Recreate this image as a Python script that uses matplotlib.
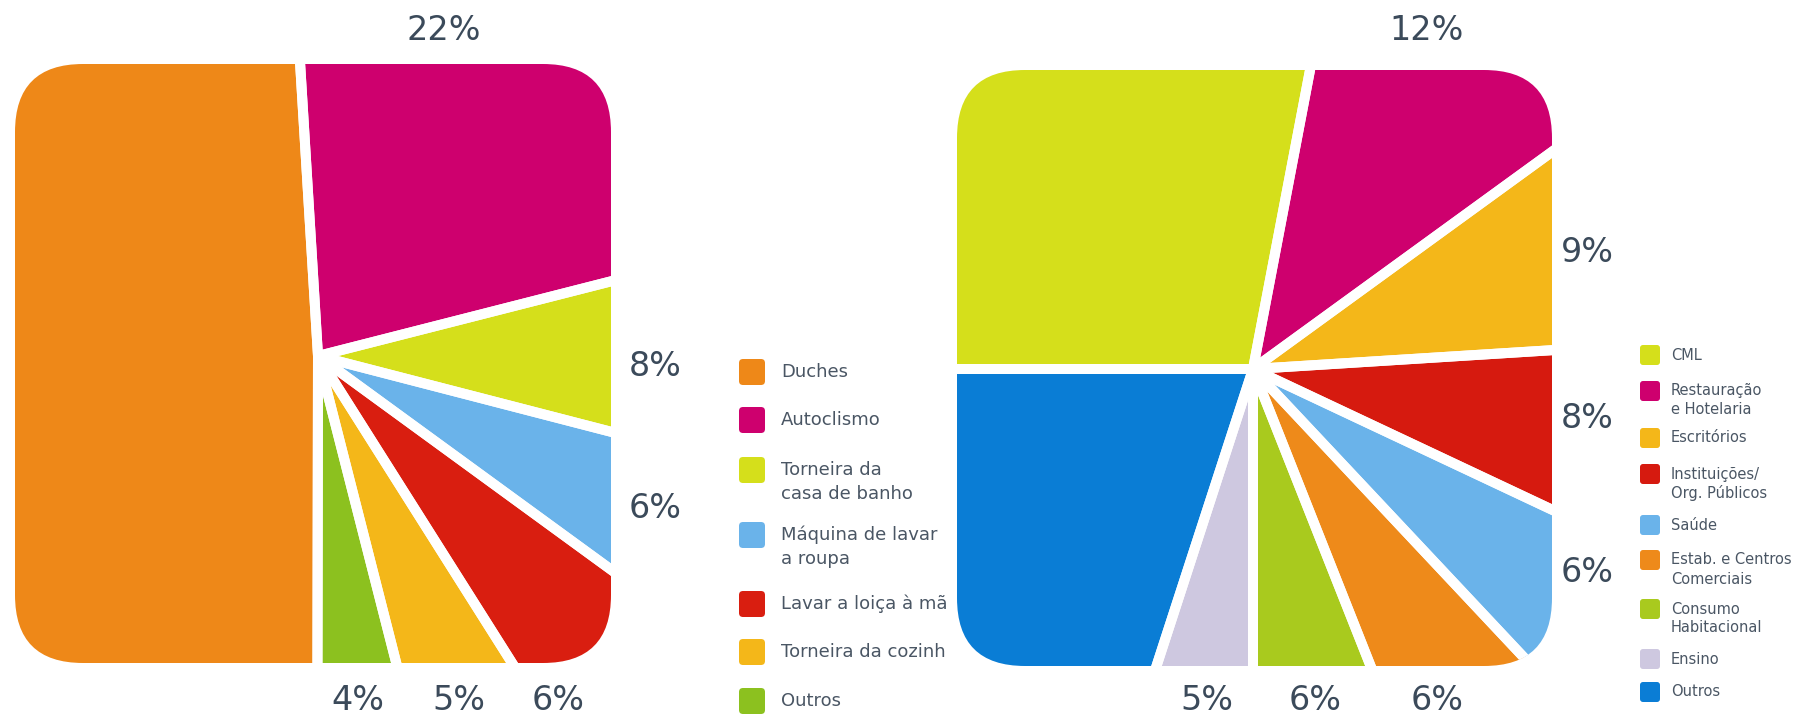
import matplotlib
matplotlib.use("Agg")
import matplotlib.pyplot as plt
from matplotlib.patches import FancyBboxPatch
from matplotlib.transforms import Bbox, TransformedBbox

# ---------------- data ----------------
left_labels = ["Duches", "Autoclismo", "Torneira da\ncasa de banho", "Máquina de lavar\na roupa",
               "Lavar a loiça à mão", "Torneira da cozinha", "Outros"]
left_values = [49, 22, 8, 6, 6, 5, 4]
left_colors = ["#EE8818", "#CE006E", "#D5DF1B", "#6AB3EA", "#D91E10", "#F4B719", "#8CC11F"]
left_pct_text = ["", "22%", "8%", "6%", "6%", "5%", "4%"]

right_labels = ["CML", "Restauração\ne Hotelaria", "Escritórios", "Instituições/\nOrg. Públicos",
                "Saúde", "Estab. e Centros\nComerciais", "Consumo\nHabitacional", "Ensino", "Outros"]
right_values = [28, 12, 9, 8, 6, 6, 6, 5, 20]
right_colors = ["#D5DF1B", "#CE006E", "#F4B719", "#D61A0F", "#6AB3EA", "#EE8A1A", "#A9CA1E",
                "#CEC8E0", "#0A7DD5"]
right_pct_text = ["", "12%", "9%", "8%", "6%", "6%", "6%", "5%", ""]

# ---------------- layout / style ----------------
W, H = 1809, 716
fig = plt.figure(figsize=(W / 100, H / 100), dpi=100)
ax = fig.add_axes([0, 0, 1, 1])

def Y(y):  # image row -> data y
    return H - y

pct_color = "#3B4A5A"
leg_color = "#4A5664"

def draw_pie(values, colors, center, start, box, rounding):
    x0, y0, x1, y1 = box
    clip = FancyBboxPatch((x0, Y(y1)), x1 - x0, y1 - y0,
                          boxstyle=f"round,pad=0,rounding_size={rounding}",
                          transform=ax.transData)
    w1, _ = ax.pie(values, colors=colors, startangle=start, counterclock=False,
                   radius=650, center=(center[0], Y(center[1])),
                   wedgeprops=dict(linewidth=0))
    w2, _ = ax.pie(values, colors=colors, startangle=start, counterclock=False,
                   radius=650, center=(center[0], Y(center[1])),
                   wedgeprops=dict(facecolor="none", edgecolor="white", linewidth=7.2,
                                   joinstyle="round"))
    for w in list(w1) + list(w2):
        w.set_clip_path(clip)
        w.set_clip_on(True)

# left pie
draw_pie(left_values, left_colors, (318, 356), 269.9, (15, 64, 611, 663), 68)
# right pie
draw_pie(right_values, right_colors, (1253, 369), 180.0, (957, 70, 1552, 666), 68)

# percentage labels (positions in image pixels)
left_pct_pos = [None, (444, 30), (655, 367), (655, 508), (558, 701), (459, 701), (358, 701)]
right_pct_pos = [None, (1427, 30), (1587, 253), (1587, 418), (1587, 572), (1437, 701),
                 (1315, 701), (1207, 701), None]
for txts, poss in ((left_pct_text, left_pct_pos), (right_pct_text, right_pct_pos)):
    for t, p in zip(txts, poss):
        if t and p:
            ax.text(p[0], Y(p[1]), t, ha="center", va="center", fontsize=24,
                    color=pct_color, family="DejaVu Sans")

# left legend
left_leg_y = [372, 420, 470, 535, 604, 652, 701]
clipbox = TransformedBbox(Bbox([[700, 0], [946, H]]), ax.transData)
for lab, col, yy in zip(left_labels, left_colors, left_leg_y):
    sq = FancyBboxPatch((739, Y(yy) - 13), 26, 26,
                        boxstyle="round,pad=0,rounding_size=4",
                        facecolor=col, edgecolor="none", transform=ax.transData)
    ax.add_patch(sq)
    for i, line in enumerate(lab.split("\n")):
        t = ax.text(781, Y(yy + 24 * i), line, ha="left", va="center", fontsize=13,
                    color=leg_color, family="DejaVu Sans")
        t.set_clip_box(clipbox)
        t.set_clip_on(True)

# right legend
right_leg_y = [355, 391, 438, 474, 525, 560, 609, 659, 692]
for lab, col, yy in zip(right_labels, right_colors, right_leg_y):
    sq = FancyBboxPatch((1640, Y(yy) - 10), 20, 20,
                        boxstyle="round,pad=0,rounding_size=3",
                        facecolor=col, edgecolor="none", transform=ax.transData)
    ax.add_patch(sq)
    for i, line in enumerate(lab.split("\n")):
        ax.text(1671, Y(yy + 19 * i), line, ha="left", va="center", fontsize=10.5,
                color=leg_color, family="DejaVu Sans")

ax.set_xlim(0, W)
ax.set_ylim(0, H)
ax.set_aspect("auto")
ax.axis("off")

fig.savefig("out.png", dpi=100, facecolor="white")
